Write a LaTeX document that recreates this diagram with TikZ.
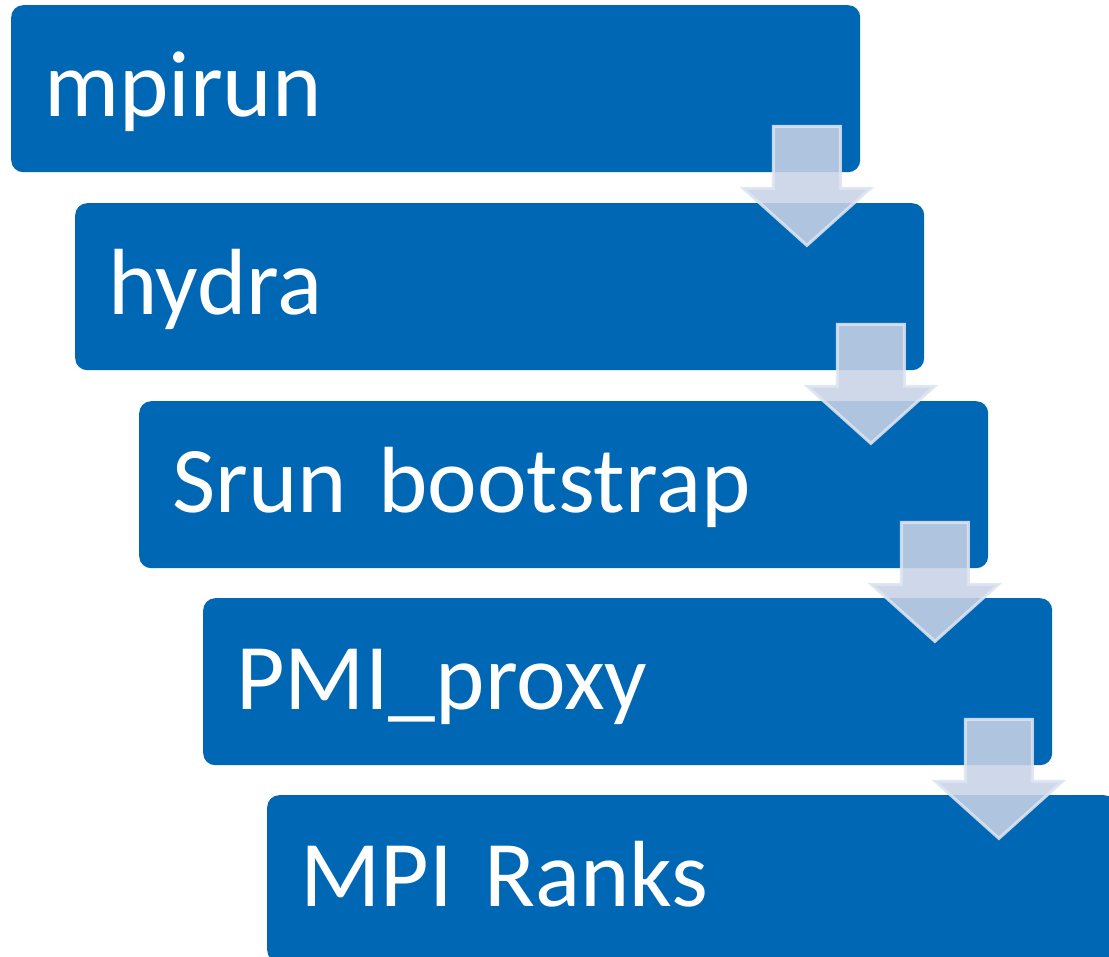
\documentclass[tikz,border=0pt]{standalone}
\usepackage{fontspec}
\setmainfont{Carlito}
\usetikzlibrary{calc}
\definecolor{boxblue}{RGB}{0,103,180}
\definecolor{arrowfill}{RGB}{200,211,230}
\definecolor{arrowline}{RGB}{222,228,241}
\tikzset{
  stepbox/.style={fill=boxblue, draw=none, rounded corners=12pt, anchor=north west,
    minimum width=849pt, minimum height=167pt, inner xsep=33pt, inner ysep=0pt,
    text width=783pt, align=left, text=white,
    font=\fontsize{94}{100}\selectfont, text height=74pt, text depth=18pt},
  blockarrow/.style={fill=arrowfill, draw=arrowline, line width=3pt, opacity=0.88, line join=miter}
}
\newcommand\flowarrow[1]{%
  \draw[blockarrow] ($(#1.south east)+(-87,-46)$) -- ++(67,0) -- ++(0,62) -- ++(30,0)
    -- ++(-63.5,57) -- ++(-63.5,-57) -- ++(30,0) -- cycle;}
\begin{document}
\begin{tikzpicture}[x=1pt,y=-1pt]
\useasboundingbox (0,0) rectangle (1109,957);
\clip (0,0) rectangle (1109,957);
\node[stepbox] (b1) at (11,5) {mpirun};
\node[stepbox] (b2) at (75,203) {hydra};
\node[stepbox] (b3) at (139,401) {Srun bootstrap};
\node[stepbox] (b4) at (203,598) {PMI\_proxy};
\node[stepbox] (b5) at (267,795) {MPI Ranks};
\flowarrow{b1}
\flowarrow{b2}
\flowarrow{b3}
\flowarrow{b4}
\end{tikzpicture}
\end{document}
